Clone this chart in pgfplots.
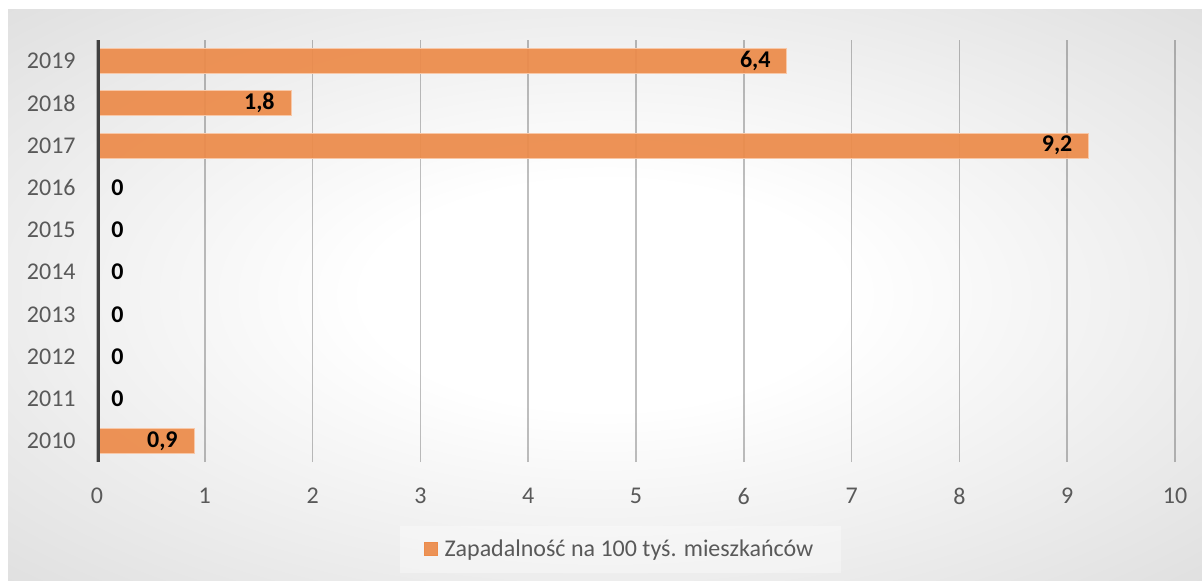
\documentclass[border=0pt]{standalone}
\usepackage{fontspec}
\setmainfont{Carlito}
\usepackage{pgfplots}
\pgfplotsset{compat=1.18}
\usepackage{pgfplotstable}
\definecolor{barfill}{RGB}{236,139,74}
\definecolor{barline}{RGB}{248,200,168}
\definecolor{tickgray}{RGB}{89,89,89}
\definecolor{axisdark}{RGB}{64,64,64}
\pgfdeclareradialshading{chartbg}{\pgfpoint{0bp}{0bp}}{color(0bp)=(white); color(10bp)=(white); color(50bp)=(black!19); color(71bp)=(black!24)}
\pgfplotstableread{
year v
2010 0.9
2011 0
2012 0
2013 0
2014 0
2015 0
2016 0
2017 9.2
2018 1.8
2019 6.4
}\data
\begin{document}
\begin{tikzpicture}[x=1pt,y=1pt]
\useasboundingbox (0,0) rectangle (601,290);
\shade[shading=chartbg] (4,0) rectangle (601,285);
\begin{axis}[at={(48.5pt,59pt)}, anchor=south west, scale only axis,
  width=539pt, height=211pt,
  xmin=0, xmax=10, ymin=2009.5, ymax=2019.5,
  xtick={0,...,10}, ytick={2010,...,2019},
  axis line style={draw=none},
  major tick length=0pt,
  xmajorgrids, grid style={black, opacity=0.25, line width=0.75pt},
  /pgf/number format/assume math mode=true,
  /pgf/number format/use comma,
  /pgf/number format/1000 sep={},
  tick label style={font=\fontsize{12}{14}\selectfont, text=tickgray},
  yticklabel style={inner sep=0pt, xshift=-10.5pt},
  xticklabel style={inner sep=0pt, yshift=-13pt},
  legend style={at={(0.4856,-0.2073)}, anchor=center, draw=none, fill=white,
    fill opacity=0.35, text opacity=1, font=\fontsize{12}{14}\selectfont,
    text=tickgray, inner xsep=12pt, inner ysep=5pt},
]
\addplot[xbar, bar width=12.5pt, bar shift=0pt, fill=barfill, fill opacity=0.93,
  draw=barline, line width=0.5pt, x filter/.expression={x==0 ? nan : x},
  legend image code/.code={\fill[barfill] (0pt,-3.25pt) rectangle (6.5pt,3.25pt); \path (8pt,0pt);}]
  table[x=v, y=year] {\data};
\addlegendentry{Zapadalność na 100 tyś. mieszkańców}
\addplot[xbar, bar width=12.5pt, bar shift=0pt, draw=none, fill=none, forget plot,
  point meta=x,
  nodes near coords,
  visualization depends on={ifthenelse(\thisrow{v}==0,13.5,-8) \as \labshift},
  nodes near coords style={font=\fontsize{12}{14}\selectfont\bfseries, text=black,
    anchor=east, inner sep=0pt, xshift=\labshift pt}]
  table[x=v, y=year] {\data};
\draw[axisdark, line width=1.5pt] ([xshift=0.6pt]rel axis cs:0,0) -- ([xshift=0.6pt]rel axis cs:0,1);
\end{axis}
\end{tikzpicture}
\end{document}
